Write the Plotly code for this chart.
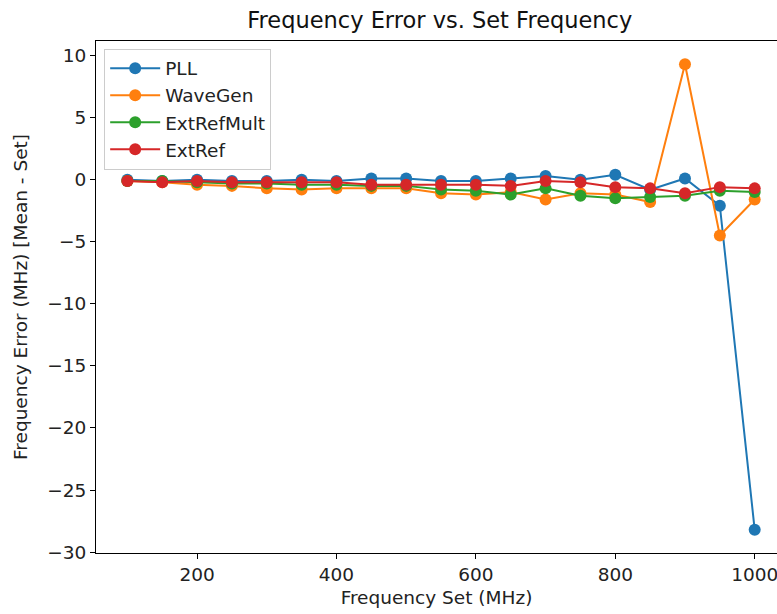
import plotly.graph_objects as go

freq_set = [100, 150, 200, 250, 300, 350, 400, 450, 500, 550, 600, 650, 700, 750, 800, 850, 900, 950, 1000]
pll = [0.0, -0.1, 0.0, -0.1, -0.1, 0.0, -0.1, 0.1, 0.1, -0.1, -0.1, 0.1, 0.3, 0.0, 0.4, -0.8, 0.1, -2.1, -28.2]
wavegen = [-0.1, -0.2, -0.4, -0.5, -0.7, -0.8, -0.7, -0.7, -0.7, -1.1, -1.2, -1.0, -1.6, -1.1, -1.2, -1.8, 9.3, -4.5, -1.6]
extrefmult = [-0.1, -0.1, -0.2, -0.3, -0.3, -0.4, -0.4, -0.5, -0.5, -0.8, -0.9, -1.2, -0.7, -1.3, -1.5, -1.4, -1.3, -0.9, -1.0]
extref = [-0.1, -0.2, -0.1, -0.2, -0.2, -0.2, -0.2, -0.4, -0.4, -0.4, -0.4, -0.5, -0.1, -0.2, -0.6, -0.7, -1.1, -0.6, -0.7]

series = [("PLL", pll, "#1f77b4"), ("WaveGen", wavegen, "#ff7f0e"),
          ("ExtRefMult", extrefmult, "#2ca02c"), ("ExtRef", extref, "#d62728")]

FONT = "DejaVu Sans"
FS = 18.5
fig = go.Figure()
for name, vals, col in series:
    fig.add_trace(go.Scatter(x=freq_set, y=vals, mode="lines+markers", name=name,
                             legendgroup=name,
                             line=dict(color=col, width=2),
                             marker=dict(color=col, size=12)))

fig.update_layout(
    width=777, height=614,
    margin=dict(l=96, r=0, t=41, b=61),
    paper_bgcolor="white", plot_bgcolor="white",
    font=dict(family=FONT, size=FS, color="#222"),
    title=dict(text="Frequency Error vs. Set Frequency", x=0.566, xanchor="center",
               y=0.967, yanchor="middle", font=dict(size=22.5, color="#111")),
    showlegend=True,
    legend=dict(x=0.012, y=0.985, xanchor="left", yanchor="top",
                bordercolor="#cccccc", borderwidth=1, bgcolor="rgba(255,255,255,0.8)",
                font=dict(size=FS, color="#222"), tracegroupgap=0,
                itemwidth=50),
    xaxis=dict(range=[55, 1032], tickvals=[200, 400, 600, 800, 1000],
               showgrid=False, zeroline=False, showline=True, linecolor="black",
               linewidth=1, mirror=True, ticks="outside", ticklen=5, tickcolor="black",
               tickfont=dict(size=FS), ticklabeloverflow="allow",
               title=dict(text="Frequency Set (MHz)", standoff=6, font=dict(size=FS))),
    yaxis=dict(range=[-30.07, 11.17], tickvals=[10, 5, 0, -5, -10, -15, -20, -25, -30],
               ticktext=["10", "5", "0", "\u22125", "\u221210", "\u221215", "\u221220", "\u221225", "\u221230"],
               showgrid=False, zeroline=False, showline=True, linecolor="black",
               linewidth=1, mirror=False, ticks="outside", ticklen=5, tickcolor="black",
               tickfont=dict(size=FS),
               title=dict(text="Frequency Error (MHz) [Mean - Set]", standoff=14, font=dict(size=FS))),
)

fig.write_html("out.html")
